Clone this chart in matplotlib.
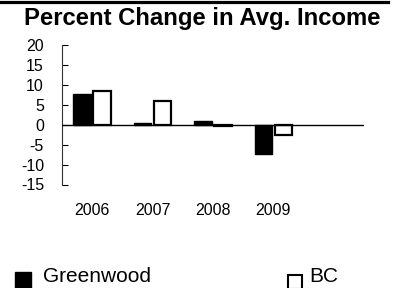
import matplotlib
matplotlib.use("Agg")
import matplotlib.pyplot as plt
from matplotlib.lines import Line2D
import numpy as np

plt.rcParams['font.family'] = ['Liberation Sans', 'DejaVu Sans']

years = ["2006", "2007", "2008", "2009"]
greenwood = [7.7, 0.4, 1.0, -7.4]
bc = [8.4, 6.0, -0.3, -2.6]
yticks = [-15, -10, -5, 0, 5, 10, 15, 20]
series_names = ["Greenwood", "BC"]

W, H = 393, 288
fig = plt.figure(figsize=(W / 100, H / 100), dpi=100)
ax = fig.add_axes([62 / W, 1 - 184.5 / H, (364 - 62) / W, (184.5 - 45) / H])

x = np.arange(len(years))
bw = 0.29
off = 0.165
ax.bar(x - off, greenwood, width=bw, color='black', edgecolor='black', linewidth=1.0, zorder=3)
ax.bar(x + off, bc, width=bw, color='white', edgecolor='black', linewidth=1.6, zorder=3)
ax.axhline(0, color='black', linewidth=1.0, zorder=4)

ax.set_xlim(-0.5, 4.5)
ax.set_ylim(-15, 20)
ax.set_yticks(yticks)
ax.set_yticklabels([str(v) for v in yticks])
ax.set_xticks(x)
ax.set_xticklabels(years)
ax.tick_params(axis='y', direction='in', length=4, width=0.8, pad=13, labelsize=11.5)
ax.tick_params(axis='x', length=0, pad=13, labelsize=11.5)
for s in ['top', 'right', 'bottom']:
    ax.spines[s].set_visible(False)
ax.spines['left'].set_linewidth(0.8)
ax.spines['left'].set_color('#333333')

fig.text(202 / W, 1 - 25 / H, "Percent Change in Avg. Income", ha='center', va='baseline',
         fontsize=17.2, fontweight='bold')

# top border line
fig.add_artist(Line2D([0, 388 / W], [1 - 1.5 / H, 1 - 1.5 / H], color='black', linewidth=2.3,
                      transform=fig.transFigure))

# legend keys and labels
fig.add_artist(Line2D([22.5 / W], [1 - 280 / H], marker='s', linestyle='none', markersize=11,
                      markerfacecolor='black', markeredgecolor='black', transform=fig.transFigure))
fig.add_artist(Line2D([294.8 / W], [1 - 281.5 / H], marker='s', linestyle='none', markersize=9.5,
                      markerfacecolor='white', markeredgecolor='black', markeredgewidth=1.5,
                      transform=fig.transFigure))
fig.text(43 / W, 1 - 281.7 / H, series_names[0], ha='left', va='baseline', fontsize=15)
fig.text(309 / W, 1 - 281.7 / H, series_names[1], ha='left', va='baseline', fontsize=15)

fig.savefig("out.png", dpi=100)
